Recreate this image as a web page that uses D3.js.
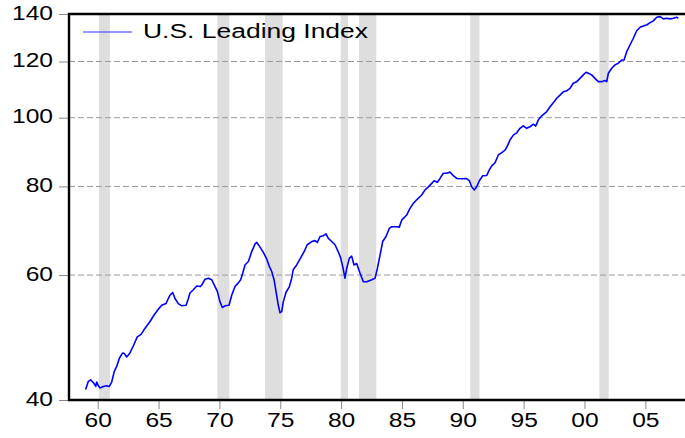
<!DOCTYPE html>
<html>
<head>
<meta charset="utf-8">
<script src="https://cdn.jsdelivr.net/npm/d3@7"></script>
<style>
  body { margin: 0; background: #fff; }
  text { font-family: "Liberation Sans", Arial, sans-serif; }
</style>
</head>
<body>
<div id="chart"></div>
<script>
// monthly-ish readings of the index, decimal years
const years = [1959.01,1959.23,1959.42,1959.70,1959.84,1959.92,1960.05,1960.19,1960.46,1960.74,
  1960.95,1961.15,1961.36,1961.56,1961.78,1962.05,1962.19,1962.38,1962.65,1962.93,
  1963.25,1963.56,1963.89,1964.30,1964.63,1964.98,1965.26,1965.61,1965.80,1965.94,
  1966.16,1966.35,1966.62,1966.90,1967.26,1967.45,1967.58,1967.86,1968.14,1968.41,
  1968.55,1968.82,1969.09,1969.37,1969.64,1969.83,1970.05,1970.24,1970.46,1970.79,
  1971.01,1971.28,1971.55,1971.75,1971.92,1972.10,1972.38,1972.65,1972.93,1973.07,
  1973.34,1973.61,1973.89,1974.10,1974.30,1974.49,1974.65,1974.84,1974.98,1975.12,
  1975.25,1975.47,1975.75,1975.94,1976.07,1976.35,1976.62,1976.95,1977.22,1977.59,
  1977.86,1978.05,1978.27,1978.49,1978.76,1978.95,1979.23,1979.50,1979.77,1979.97,
  1980.13,1980.32,1980.46,1980.68,1980.87,1981.06,1981.28,1981.55,1981.83,1982.11,
  1982.52,1982.79,1982.98,1983.20,1983.42,1983.69,1983.96,1984.16,1984.57,1984.78,
  1984.98,1985.39,1985.66,1985.93,1986.21,1986.62,1986.90,1987.17,1987.45,1987.64,
  1987.91,1988.13,1988.40,1988.68,1988.95,1989.17,1989.50,1989.91,1990.27,1990.54,
  1990.73,1990.95,1991.14,1991.36,1991.64,1991.97,1992.18,1992.38,1992.65,1992.92,
  1993.20,1993.47,1993.66,1993.82,1993.88,1994.15,1994.43,1994.70,1994.97,1995.25,
  1995.52,1995.80,1995.99,1996.21,1996.49,1996.90,1997.17,1997.44,1997.72,1997.99,
  1998.26,1998.54,1998.81,1999.08,1999.36,1999.63,1999.90,2000.13,2000.32,2000.59,
  2000.86,2001.14,2001.42,2001.69,2001.83,2001.96,2002.24,2002.51,2002.78,2003.06,
  2003.25,2003.47,2003.74,2004.01,2004.29,2004.57,2004.84,2005.11,2005.38,2005.66,
  2005.94,2006.21,2006.48,2006.76,2007.03,2007.30,2007.58,2007.71];

const leadingIndex = [41.4,42.5,42.7,42.2,41.8,42.4,41.9,41.6,41.8,41.9,
  41.8,42.4,43.9,44.6,45.8,46.6,46.5,46.0,46.6,47.7,
  49.1,49.5,50.5,51.6,52.7,53.7,54.4,54.7,55.6,56.2,
  56.7,55.6,54.7,54.3,54.4,55.6,56.6,57.2,57.9,57.8,
  58.1,59.2,59.4,59.1,57.8,56.9,55.0,54.0,54.3,54.4,
  56.2,57.8,58.5,59.1,60.4,62.0,62.7,64.7,66.4,66.7,
  65.7,64.6,63.2,61.7,60.7,59.1,56.9,54.4,53.1,53.3,
  55.0,56.7,57.8,59.4,61.1,62.0,63.2,64.7,66.2,66.9,
  67.1,66.7,68.0,68.1,68.6,67.6,66.9,66.2,64.7,63.4,
  61.7,59.4,61.3,63.4,63.8,62.0,62.3,60.4,58.7,58.7,
  59.1,59.4,61.3,64.0,66.9,68.0,69.8,70.2,70.2,70.1,
  71.7,72.9,74.5,75.7,76.6,77.8,79.1,79.9,80.8,81.5,
  81.1,82.1,83.5,83.5,83.8,83.0,82.1,82.0,82.1,81.5,
  79.9,79.1,79.9,81.5,82.8,82.9,84.4,85.5,86.4,88.6,
  89.3,90.0,91.2,92.5,93.0,94.5,95.2,96.6,97.4,96.6,
  97.1,97.9,97.3,99.3,100.6,102.0,103.6,105.0,106.5,107.6,
  108.8,109.1,110.0,111.8,112.4,113.6,114.9,115.9,115.5,114.9,
  113.6,112.4,112.4,112.8,112.4,115.5,117.4,118.7,119.3,120.6,
  120.6,123.9,126.6,129.4,132.6,134.1,134.7,135.1,136.1,136.9,
  138.5,138.8,137.8,138.1,137.8,138.1,138.5,138.1];

// shaded recessions
const recessionStart = [1960.1, 1969.83, 1973.75, 1979.97, 1981.47, 1990.61, 2001.22];
const recessionEnd = [1961.0, 1970.81, 1975.2, 1980.57, 1982.89, 1991.37, 2001.99];

const yTicks = [40, 60, 80, 100, 120, 140];
const gridTicks = [60, 80, 100, 120];
const xTicks = [1960, 1965, 1970, 1975, 1980, 1985, 1990, 1995, 2000, 2005];
const seriesName = "U.S. Leading Index";

const width = 685;
const height = 438;
const plotLeft = 69, plotTop = 14, plotBottom = 400, plotRight = 685;
const stretch = 1.23; // tick labels are drawn wide in the original

const x = d3.scaleLinear().domain([1957.64, 2008.26]).range([plotLeft, plotRight]);
const y = d3.scaleLog().domain([40, 140]).range([plotBottom, plotTop]);

const svg = d3.select("#chart")
  .append("svg")
  .attr("width", width)
  .attr("height", height);

const bands = recessionStart.map((s, i) => ({ start: s, end: recessionEnd[i] }));

svg.append("g")
  .selectAll("rect")
  .data(bands)
  .enter()
  .append("rect")
  .attr("x", d => x(d.start))
  .attr("width", d => x(d.end) - x(d.start))
  .attr("y", plotTop)
  .attr("height", plotBottom - plotTop)
  .attr("fill", "#dedede");

svg.append("g")
  .selectAll("line")
  .data(gridTicks)
  .enter()
  .append("line")
  .attr("x1", plotLeft)
  .attr("x2", plotRight)
  .attr("y1", d => y(d))
  .attr("y2", d => y(d))
  .attr("stroke", "#9a9a9a")
  .attr("stroke-dasharray", "6,3");

const points = years.map((yr, i) => [yr, leadingIndex[i]]);
const line = d3.line().x(d => x(d[0])).y(d => y(d[1]));

svg.append("path")
  .datum(points)
  .attr("fill", "none")
  .attr("stroke", "#0000ff")
  .attr("stroke-width", 1.6)
  .attr("stroke-linejoin", "round")
  .attr("d", line);

// axes
const yAxis = svg.append("g")
  .attr("transform", "translate(" + plotLeft + ",0)")
  .call(d3.axisLeft(y).tickValues(yTicks).tickFormat(d3.format("d")).tickSize(10).tickPadding(3));

yAxis.select(".domain").remove();
yAxis.selectAll(".tick line").attr("stroke", "#888");
yAxis.selectAll(".tick text")
  .attr("font-size", 20)
  .attr("font-family", "Liberation Sans, Arial, sans-serif")
  .attr("fill", "#000")
  .attr("dy", "0.26em")
  .attr("transform", "scale(" + stretch + ",1)");

const xAxis = svg.append("g")
  .attr("transform", "translate(0," + plotBottom + ")")
  .call(d3.axisBottom(x).tickValues(xTicks)
    .tickFormat(d => String(d % 100).padStart(2, "0"))
    .tickSize(9).tickPadding(4));

xAxis.select(".domain").remove();
xAxis.selectAll(".tick line").attr("stroke", "#888");
xAxis.selectAll(".tick text")
  .attr("font-size", 20)
  .attr("font-family", "Liberation Sans, Arial, sans-serif")
  .attr("fill", "#000")
  .attr("transform", "scale(" + stretch + ",1)");

// frame: top, left, bottom
svg.append("path")
  .attr("d", "M" + plotRight + "," + plotTop + "H" + plotLeft + "V" + plotBottom + "H" + plotRight)
  .attr("fill", "none")
  .attr("stroke", "#000")
  .attr("stroke-width", 2.4);

// legend
svg.append("line")
  .attr("x1", 83)
  .attr("x2", 132)
  .attr("y1", 32)
  .attr("y2", 32)
  .attr("stroke", "#3030ff")
  .attr("stroke-width", 1.2);

svg.append("text")
  .attr("x", 143)
  .attr("y", 38.3)
  .attr("font-size", 20)
  .attr("textLength", 225)
  .attr("lengthAdjust", "spacingAndGlyphs")
  .text(seriesName);
</script>
</body>
</html>
